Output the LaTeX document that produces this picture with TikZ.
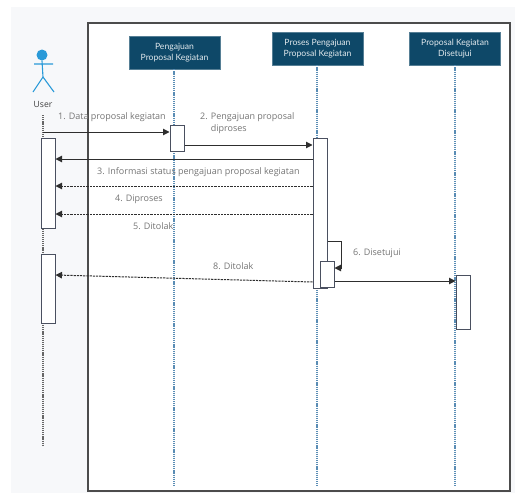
\documentclass[tikz,border=0pt]{standalone}
\usepackage{fontspec}
\setmainfont{Open Sans}
\newfontfamily\hdrfont{Lato}
\usetikzlibrary{arrows.meta,positioning}
\definecolor{hdr}{HTML}{0E4868}
\definecolor{life}{HTML}{5A8DB5}
\definecolor{bgl}{HTML}{F7F8FA}
\definecolor{txt}{HTML}{757575}
\definecolor{actc}{HTML}{4A5060}
\definecolor{arr}{HTML}{2E2E2E}
\definecolor{actor}{HTML}{2A9AD8}
\tikzset{
  hdrbox/.style={draw=hdr!70!white, fill=hdr, text=white!88!hdr, font=\hdrfont\fontsize{8.6}{11}\selectfont, align=center, minimum width=91pt, minimum height=33pt, inner sep=1pt},
  lifeline/.style={draw=life, line width=1.1pt, dash pattern=on 1.2pt off 0.9pt},
  userline/.style={draw=gray!80!black, line width=1.1pt, dash pattern=on 1.2pt off 0.9pt},
  actbox/.style={draw=actc, fill=white, line width=1pt, minimum width=14pt, inner sep=0pt},
  lbl/.style={text=txt, font=\fontsize{9}{11.5}\selectfont, inner sep=0pt, anchor=west},
  msg/.style={draw=arr, line width=1pt, -{Triangle[length=6.5pt,width=6.5pt]}},
  rmsg/.style={msg, dash pattern=on 2.2pt off 1pt},
}
\begin{document}
\begin{tikzpicture}[x=1pt,y=-1pt]
\useasboundingbox (0,0) rectangle (515,493);
\fill[bgl] (11,7) rectangle (515,493);
\draw[fill=white, draw=gray!60!black, line width=1.3pt] (88,23) rectangle (510,491);
% headers
\node[hdrbox] (h1) at (174.5,52.5) {Pengajuan\\Proposal Kegiatan};
\node[hdrbox] (h2) at (317.5,48.5) {Proses Pengajuan\\Proposal Kegiatan};
\node[hdrbox] (h3) at (455,48.5) {Proposal Kegiatan\\Disetujui};
% lifeline ends
\coordinate (e1) at (174,487);
\coordinate (e2) at (317,487);
\coordinate (e3) at (455,487);
\draw[lifeline] (h1.south -| e1) -- (e1);
\draw[lifeline] (h2.south -| e2) -- (e2);
\draw[lifeline] (h3.south -| e3) -- (e3);
% actor
\node[circle, fill=actor, minimum size=11pt, inner sep=0pt] (head) at (42,55) {};
\coordinate (hip) at (43,77);
\coordinate (arml) at (34,64);
\coordinate (armr) at (53,64);
\coordinate (legl) at (33,92);
\coordinate (legr) at (54,92);
\draw[actor, line width=1.1pt] (head.south) -- (hip) (arml) -- (armr) (legl) -- (hip) -- (legr);
\node[text=black!75, font=\fontsize{8.6}{10}\selectfont, inner sep=0pt] (user) at (43,104) {User};
\coordinate (ut) at (43,115);
\coordinate (ub) at (43,445);
\draw[userline] (ut) -- (ub);
% activations
\node[actbox, minimum height=90pt] (u1) at (48,183) {};
\node[actbox, minimum height=69pt] (u2) at (48,288.5) {};
\node[actbox, minimum height=26pt] (b1a) at (177,138) {};
\node[actbox, minimum height=150pt] (b2a) at (320,213) {};
\node[actbox, minimum height=26pt] (b2n) at (327,274) {};
\node[actbox, minimum height=54pt] (b3a) at (463,302) {};
% messages
\coordinate (m1s) at (43,132);
\draw[msg] (m1s) -- (m1s -| b1a.west);
\coordinate (m2y) at (0,145);
\draw[msg] (m2y -| b1a.east) -- (m2y -| b2a.west);
\coordinate (m3y) at (0,159);
\draw[msg] (m3y -| b2a.west) -- (m3y -| u1.east);
\coordinate (m4y) at (0,186);
\draw[rmsg] (m4y -| b2a.west) -- (m4y -| u1.east);
\coordinate (m5y) at (0,214);
\draw[rmsg] (m5y -| b2a.west) -- (m5y -| u1.east);
\coordinate (m6y) at (0,241);
\coordinate (m6x) at (341,268);
\draw[msg] (m6y -| b2a.east) -| (m6x) -- (m6x -| b2n.east);
\coordinate (m7y) at (0,281);
\draw[msg] (m7y -| b2n.east) -- (m7y -| b3a.west);
\coordinate (m8s) at (0,282);
\coordinate (m8e) at (0,275);
\draw[rmsg] (m8s -| b2a.west) -- (m8e -| u2.east);
% labels
\node[lbl] (t1) at (58,117) {1. Data proposal kegiatan};
\node[lbl, align=left] (t2) at (200,123) {2. Pengajuan proposal\\\hphantom{2. }diproses};
\node[lbl] (t3) at (97,172) {3. Informasi status pengajuan proposal kegiatan};
\node[lbl] (t4) at (115,199) {4. Diproses};
\node[lbl] (t5) at (133,226) {5. Ditolak};
\node[lbl] (t6) at (353,253) {6. Disetujui};
\node[lbl] (t8) at (213,266) {8. Ditolak};
\end{tikzpicture}
\end{document}
